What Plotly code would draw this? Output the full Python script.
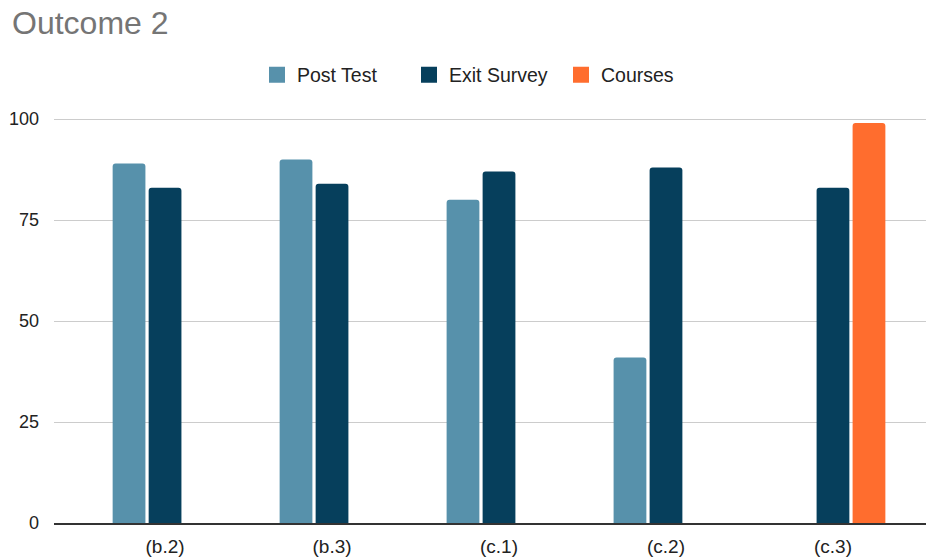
import plotly.graph_objects as go

categories = ["(b.2)", "(b.3)", "(c.1)", "(c.2)", "(c.3)"]
post_test = [89, 90, 80, 41, None]
exit_survey = [83, 84, 87, 88, 83]
courses = [None, None, None, None, 99]
y_ticks = [0, 25, 50, 75, 100]

series_names = ["Post Test", "Exit Survey", "Courses"]
series_values = [post_test, exit_survey, courses]
series_colors = ["#5791ab", "#063f5c", "#ff6d2e"]

FONT = "Liberation Sans, Arial, sans-serif"

# The page body adds an 8px margin, so the figure is laid out 8px smaller
OFF = 8
W, H = 934 - OFF, 557 - OFF

fig = go.Figure()
for name, vals, col in zip(series_names, series_values, series_colors):
    fig.add_trace(go.Bar(name=name, x=categories, y=vals, showlegend=False,
                         legendgroup=name,
                         marker=dict(color=col, cornerradius=3, line=dict(width=0))))
for name, col in zip(series_names, series_colors):
    fig.add_trace(go.Scatter(name=name, x=[None], y=[None], mode="markers",
                             legendgroup=name, showlegend=True, hoverinfo="skip",
                             marker=dict(symbol="square", size=16, color=col)))

fig.update_layout(
    width=W, height=H,
    margin=dict(l=54 - OFF, r=0, t=114.5 - OFF, b=34, pad=0),
    paper_bgcolor="white", plot_bgcolor="white",
    font=dict(family=FONT, size=18, color="#222222"),
    title=dict(text="Outcome 2", x=(12 - OFF) / W, xanchor="left", xref="container",
               y=1 - (23 - OFF) / H, yanchor="middle", yref="container",
               font=dict(family=FONT, size=32, color="#757575")),
    barmode="group", bargap=0.353, bargroupgap=0.09,
    showlegend=True,
    legend=dict(orientation="h", x=(485 - OFF) / W, xanchor="center", xref="container",
                y=1 - (75 - OFF) / H, yref="container", yanchor="middle",
                entrywidth=107, entrywidthmode="pixels",
                font=dict(family=FONT, size=19.5, color="#222222"),
                itemclick=False, itemdoubleclick=False, traceorder="normal"),
    xaxis=dict(range=[-0.665, 4.605], showgrid=False, showline=True,
               linecolor="#333333", linewidth=1.5, ticks="",
               tickfont=dict(family=FONT, size=19, color="#222222"),
               ticklabelstandoff=5),
    yaxis=dict(range=[0, 101], tickvals=y_ticks, showgrid=True,
               gridcolor="#cccccc", gridwidth=1, zeroline=False,
               showline=False, ticks="",
               tickfont=dict(family=FONT, size=18, color="#222222"),
               ticklabelstandoff=14),
)

fig.write_html("out.html")
